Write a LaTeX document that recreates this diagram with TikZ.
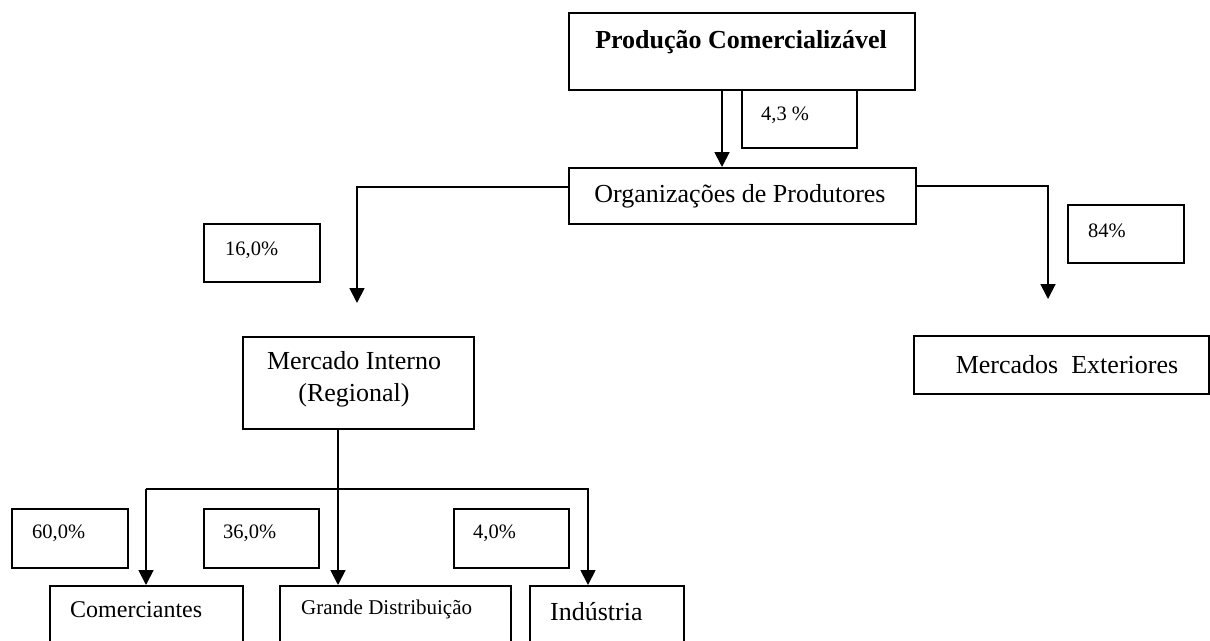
\documentclass[tikz,border=0pt]{standalone}
\usepackage{fontspec}
\setmainfont{Liberation Serif}
\usetikzlibrary{arrows.meta}
\begin{document}
\begin{tikzpicture}[x=1pt,y=-1pt,
  box/.style={draw, line width=1.8pt, inner sep=0pt, anchor=north west},
  big/.style={font=\fontsize{26}{32}\selectfont, inner sep=0pt},
  pct/.style={font=\fontsize{20.5}{24}\selectfont, anchor=west, inner sep=0pt},
  conn/.style={line width=1.8pt, -{Triangle[length=15pt,width=15pt]}},
  plain/.style={line width=1.8pt}]
\clip (0,0) rectangle (1210,640);
\fill[white] (0,0) rectangle (1210,640);
% boxes
\node[box, minimum width=346pt, minimum height=77pt] (pc) at (568,12) {};
\node[box, minimum width=115pt, minimum height=58pt] (p43) at (741,89) {};
\node[box, minimum width=347pt, minimum height=56pt] (op) at (568,167) {};
\node[box, minimum width=116pt, minimum height=58pt] (p16) at (203,223) {};
\node[box, minimum width=116pt, minimum height=58pt] (p84) at (1067,204) {};
\node[box, minimum width=231pt, minimum height=92pt] (mi) at (242,336) {};
\node[box, minimum width=295pt, minimum height=58pt] (me) at (913,335) {};
\node[box, minimum width=116pt, minimum height=59pt] (p60) at (11,508) {};
\node[box, minimum width=115pt, minimum height=59pt] (p36) at (203,508) {};
\node[box, minimum width=115pt, minimum height=59pt] (p4) at (453,508) {};
\node[box, minimum width=193pt, minimum height=100pt] (co) at (49,585) {};
\node[box, minimum width=231pt, minimum height=100pt] (gd) at (279,585) {};
\node[box, minimum width=154pt, minimum height=100pt] (in) at (529,585) {};
% texts
\node[big, font=\fontsize{26}{32}\selectfont\bfseries] (pct) at (741,42) {Produção Comercializável};
\node[pct] (p43t) at (761,115) {4,3 \%};
\node[big] (opt) at (740,196) {Organizações de Produtores};
\node[pct] (p16t) at (225,250) {16,0\%};
\node[pct] (p84t) at (1088,231) {84\%};
\node[big, align=center] (mit) at (354,379) {Mercado Interno\\(Regional)};
\node[big] (met) at (1067,365) {Mercados\ \ Exteriores};
\node[pct] (p60t) at (32,533) {60,0\%};
\node[pct] (p36t) at (223,533) {36,0\%};
\node[pct] (p4t) at (473,533) {4,0\%};
\node[big, anchor=west, font=\fontsize{24}{28}\selectfont] (cot) at (70,610) {Comerciantes};
\node[big, anchor=west, font=\fontsize{21}{25}\selectfont] (gdt) at (301,609) {Grande Distribuição};
\node[big, anchor=west] (int) at (550,612) {Indústria};
% connectors
\coordinate (a1) at (722,89);
\draw[conn] (pc.south -| a1) -- (op.north -| a1);
\coordinate (l1) at (357,187);
\coordinate (l2) at (357,303);
\draw[conn] (op.west |- l1) -- (l1) -- (l2);
\coordinate (r1) at (1048,186);
\coordinate (r2) at (1048,299);
\draw[conn] (op.east |- r1) -- (r1) -- (r2);
\coordinate (m1) at (338,489);
\draw[conn] (mi.south -| m1) -- (gd.north -| m1);
\coordinate (hl) at (146,489);
\coordinate (hr) at (588,489);
\draw[conn] (hl) -- (co.north -| hl);
\draw[conn] (hl) -- (hr) -- (in.north -| hr);
\end{tikzpicture}
\end{document}
